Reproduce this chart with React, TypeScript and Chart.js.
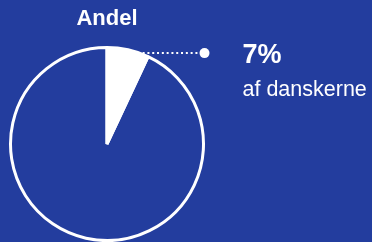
import React, { useEffect, useRef } from "react";
import { Chart, registerables } from "chart.js";

Chart.register(...registerables);

const categories = ["Andel", "Øvrige"];
const values = [7, 93];
const title = "Andel";
const valueLabel = "7%";
const subLabel = "af danskerne";

const BG = "#233d9e";

const calloutPlugin = {
  id: "callout",
  afterDatasetsDraw(chart: any) {
    const meta = chart.getDatasetMeta(0);
    const arc = meta.data[0];
    if (!arc) return;
    const { x, y, outerRadius } = arc.getProps(["x", "y", "outerRadius"], true);
    const ctx = chart.ctx;
    const lineY = y - outerRadius * 0.942;
    const startX = x + outerRadius * 0.22;
    const dotX = x + outerRadius + 1;
    ctx.save();
    ctx.strokeStyle = "#ffffff";
    ctx.lineWidth = 2;
    ctx.setLineDash([2, 2.8]);
    ctx.beginPath();
    ctx.moveTo(startX, lineY);
    ctx.lineTo(dotX, lineY);
    ctx.stroke();
    ctx.setLineDash([]);
    ctx.fillStyle = "#ffffff";
    ctx.beginPath();
    ctx.arc(dotX, lineY, 5, 0, Math.PI * 2);
    ctx.fill();
    const textX = dotX + 38;
    ctx.textAlign = "left";
    ctx.textBaseline = "alphabetic";
    ctx.font = "bold 27px 'Liberation Sans', Arial, sans-serif";
    ctx.fillText(valueLabel, textX, lineY + 10);
    ctx.font = "21.5px 'Liberation Sans', Arial, sans-serif";
    ctx.fillText(subLabel, textX, lineY + 43);
    ctx.restore();
  },
};

export default function App() {
  const ref = useRef<HTMLCanvasElement>(null);
  useEffect(() => {
    if (!ref.current) return;
    const chart = new Chart(ref.current, {
      type: "pie",
      data: {
        labels: categories,
        datasets: [
          {
            data: values,
            backgroundColor: ["#ffffff", "rgba(0,0,0,0)"],
            borderColor: "#ffffff",
            borderWidth: 3,
          },
        ],
      },
      options: {
        animation: false,
        responsive: false,
        maintainAspectRatio: false,
        layout: { padding: { left: 9, right: 167, top: 0, bottom: 0 } },
        plugins: {
          legend: { display: false },
          tooltip: { enabled: false },
          title: {
            display: true,
            text: title,
            color: "#ffffff",
            font: { family: "'Liberation Sans', Arial, sans-serif", size: 22, weight: "bold" },
            padding: { top: 6, bottom: 13.6 },
          },
        },
      },
      plugins: [calloutPlugin],
    });
    return () => chart.destroy();
  }, []);
  return (
    <div style={{ position: "fixed", left: 0, top: 0, width: 372, height: 242, background: BG }}>
      <canvas ref={ref} width={372} height={242} style={{ display: "block", width: 372, height: 242 }} />
    </div>
  );
}
